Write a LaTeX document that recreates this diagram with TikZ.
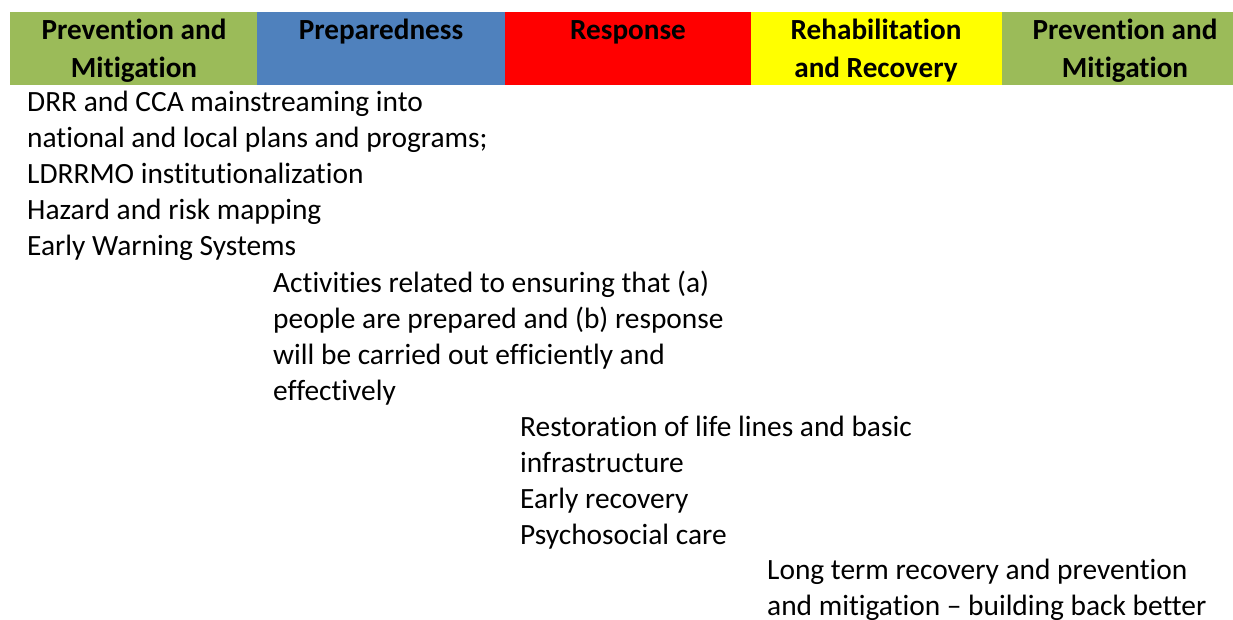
\documentclass[tikz,border=0pt]{standalone}
\usepackage{fontspec}
\setmainfont{Carlito}[Ligatures=NoCommon]
\definecolor{mitgreen}{HTML}{9BBB59}
\definecolor{prepblue}{HTML}{4F81BD}
\definecolor{respred}{HTML}{FF0000}
\definecolor{rehabyellow}{HTML}{FFFF00}
\begin{document}
\begin{tikzpicture}[x=1pt,y=-1pt,
  cell/.style={minimum height=73pt,inner sep=0pt,anchor=north west},
  head/.style={font=\fontsize{29.2}{38}\selectfont\bfseries,align=center,anchor=base,inner sep=0pt},
  body/.style={font=\fontsize{29.4}{36}\selectfont,align=left,anchor=base west,inner sep=0pt}]
\useasboundingbox (0,0) rectangle (1233,619);
% phase bar
\node[cell,fill=mitgreen,minimum width=247pt] (mit) at (10,12) {};
\node[cell,fill=prepblue,minimum width=248pt] (prep) at (257,12) {};
\node[cell,fill=respred,minimum width=246pt] (resp) at (505,12) {};
\node[cell,fill=rehabyellow,minimum width=251pt] (rehab) at (751,12) {};
\node[cell,fill=mitgreen,minimum width=248pt] (mitb) at (1002,12) {};
% phase names (base = last line)
\node[head] (mittxt) at (134,77) {Prevention and\\Mitigation};
\node[head] (preptxt) at (381,39) {Preparedness};
\node[head] (resptxt) at (628,39) {Response};
\node[head] (rehabtxt) at (876,77) {Rehabilitation\\and Recovery};
\node[head] (mitbtxt) at (1125,77) {Prevention and\\Mitigation};
% activities
\node[body] (mitact) at (27,255) {DRR and CCA mainstreaming into\\national and local plans and programs;\\LDRRMO institutionalization\\Hazard and risk mapping\\Early Warning Systems};
\node[body] (prepact) at (273,400) {Activities related to ensuring that (a)\\people are prepared and (b) response\\will be carried out efficiently and\\effectively};
\node[body] (respact) at (520,544) {Restoration of life lines and basic\\infrastructure\\Early recovery\\Psychosocial care};
\node[body] (rehabact) at (767,615) {Long term recovery and prevention\\and mitigation -- building back better};
\end{tikzpicture}
\end{document}
